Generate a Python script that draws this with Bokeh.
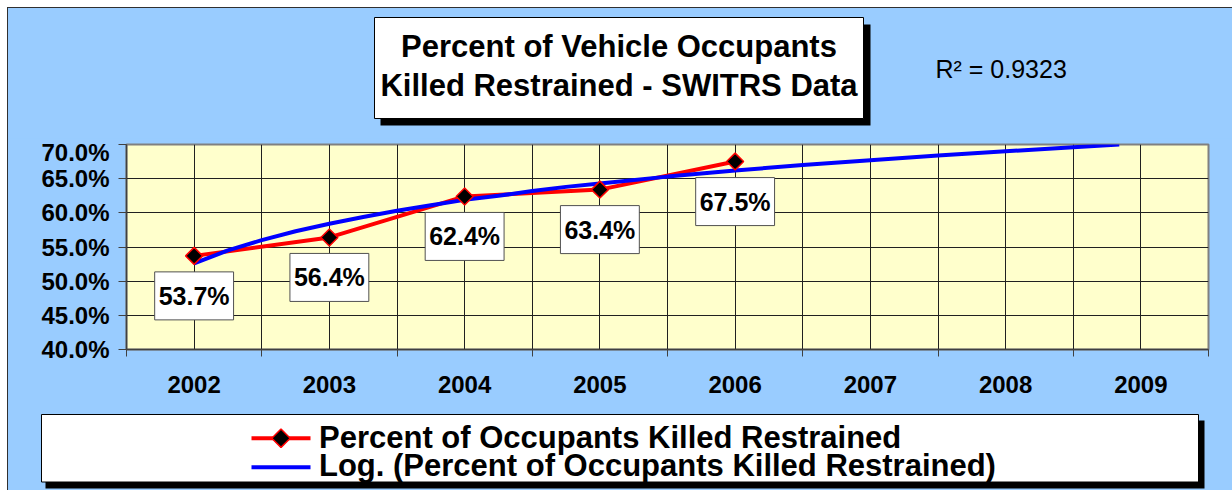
from bokeh.plotting import figure
from bokeh.layouts import column
from bokeh.models import Range1d, FixedTicker, PrintfTickFormatter, Label
from bokeh.core.properties import value
from bokeh.embed import file_html
from bokeh.resources import INLINE

# ---------------- data ----------------
years_all = [2002, 2003, 2004, 2005, 2006, 2007, 2008, 2009]
years = [2002, 2003, 2004, 2005, 2006]
pct_restrained = [53.7, 56.4, 62.4, 63.4, 67.5]

# logarithmic trend line
trend_years = [2002.0, 2002.25, 2002.5, 2002.75, 2003.0, 2003.25, 2003.5, 2003.75,
               2004.0, 2004.25, 2004.5, 2004.75, 2005.0, 2005.5, 2006.0, 2006.5,
               2007.0, 2007.5, 2008.0, 2008.5, 2008.84]
trend_vals = [52.6, 54.5, 56.0, 57.3, 58.4, 59.4, 60.3, 61.1,
              61.9, 62.5, 63.2, 63.8, 64.3, 65.3, 66.2, 67.0,
              67.7, 68.4, 69.0, 69.6, 70.0]

y_ticks = [40, 45, 50, 55, 60, 65, 70]
title_lines = ["Percent of Vehicle Occupants", "Killed Restrained - SWITRS Data"]
r2_text = "R\u00b2 = 0.9323"
legend_labels = ["Percent of Occupants Killed Restrained",
                 "Log. (Percent of Occupants Killed Restrained)"]

FONT = "Liberation Sans"
BLUE_BG = "#99CCFF"
RED = "#FF0000"
BLUE = "#0000FF"
W = 1224


def deco_figure(h):
    f = figure(width=W, height=h, output_backend="svg", toolbar_location=None,
               x_range=Range1d(0, W), y_range=Range1d(h, 0),
               x_axis_type=None, y_axis_type=None, min_border=0,
               frame_align=False)
    f.grid.visible = False
    f.outline_line_color = None
    f.background_fill_color = BLUE_BG
    f.border_fill_color = BLUE_BG
    return f


# ---------------- top: title box ----------------
top = deco_figure(130)
top.quad(left=[372], right=[862], top=[16], bottom=[117], fill_color="black",
         line_color=None)
top.quad(left=[366], right=[855], top=[9], bottom=[110], fill_color="white",
         line_color="black", line_width=1)
top.text(x=[610.5, 610.5], y=[37.8, 76.5], text=title_lines, text_align="center",
         text_baseline="middle", text_font=value(FONT), text_font_size="31px",
         text_font_style="bold", text_color="black")
top.text(x=[927], y=[60.8], text=[r2_text], text_align="left",
         text_baseline="middle", text_font=value(FONT), text_font_size="25px",
         text_color="black")

# ---------------- main chart ----------------
p = figure(width=W, height=271, output_backend="svg", toolbar_location=None,
           x_range=Range1d(years_all[0] - 0.5, years_all[-1] + 0.5),
           y_range=Range1d(y_ticks[0], y_ticks[-1]),
           min_border_left=118, min_border_right=24, min_border_top=6,
           min_border_bottom=60, frame_align=False)
p.border_fill_color = BLUE_BG
p.background_fill_color = "#FFFFCC"
p.outline_line_color = "#808080"
p.outline_line_width = 2

boundaries = [y - 0.5 for y in years_all] + [years_all[-1] + 0.5]
p.xaxis.ticker = FixedTicker(ticks=years_all, minor_ticks=boundaries)
p.xaxis.formatter = PrintfTickFormatter(format="%d")
p.xaxis.major_tick_out = 0
p.xaxis.major_tick_in = 0
p.xaxis.minor_tick_out = 7
p.xaxis.minor_tick_in = 0
p.xaxis.minor_tick_line_color = "#404040"
p.xaxis.axis_line_color = "#404040"
p.xaxis.axis_line_width = 1.5
p.xaxis.major_label_standoff = 19

p.yaxis.ticker = FixedTicker(ticks=y_ticks)
p.yaxis.formatter = PrintfTickFormatter(format="%.1f%%")
p.yaxis.major_tick_out = 8
p.yaxis.major_tick_in = 0
p.yaxis.minor_tick_line_color = None
p.yaxis.major_tick_line_color = "#404040"
p.yaxis.axis_line_color = "#404040"
p.yaxis.axis_line_width = 1.5
p.yaxis.major_label_standoff = 9

for ax in (p.xaxis, p.yaxis):
    ax.major_label_text_font = FONT
    ax.major_label_text_font_size = "24px"
    ax.major_label_text_font_style = "bold"
    ax.major_label_text_color = "black"

p.xgrid.grid_line_color = "#202020"
p.xgrid.minor_grid_line_color = "#202020"
p.xgrid.grid_line_width = 1
p.xgrid.minor_grid_line_width = 1
p.ygrid.grid_line_color = "#202020"
p.ygrid.grid_line_width = 1

p.line(years, pct_restrained, line_color=RED, line_width=4)
p.line(trend_years, trend_vals, line_color=BLUE, line_width=4)
p.scatter(years, pct_restrained, marker="square", size=12, angle=0.785398,
          fill_color="black", line_color=RED, line_width=1.5)

for yr, v in zip(years, pct_restrained):
    p.add_layout(Label(x=yr, y=v, y_offset=-40, text=f"{v:.1f}%",
                       text_align="center", text_baseline="middle",
                       text_font=FONT, text_font_size="25px", text_font_style="bold",
                       text_color="black", background_fill_color="white",
                       border_line_color="#505050", border_line_width=1,
                       padding=dict(left=4, right=4, top=10, bottom=10)))

# ---------------- bottom: legend box ----------------
bot = deco_figure(81)
bot.quad(left=[37], right=[1196], top=[11], bottom=[79], fill_color="black",
         line_color=None)
bot.quad(left=[33], right=[1190], top=[5], bottom=[72.5], fill_color="white",
         line_color="black", line_width=1)
bot.line(x=[243, 302], y=[28.7, 28.7], line_color=RED, line_width=4)
bot.scatter(x=[272.5], y=[28.7], marker="square", size=13, angle=0.785398,
            fill_color="black", line_color=RED, line_width=1.5)
bot.line(x=[243, 302], y=[57.7, 57.7], line_color=BLUE, line_width=4)
bot.text(x=[310.5, 310.5], y=[27.5, 56.0], text=legend_labels, text_align="left",
         text_baseline="middle", text_font=value(FONT), text_font_size="31px",
         text_font_style="bold", text_color="black")

layout = column(top, p, bot, spacing=0, margin=(7, 0, 0, 7),
                styles={"border-top": "1px solid #303030",
                        "border-left": "1px solid #303030",
                        "background-color": BLUE_BG})
open("out.html", "w").write(file_html(layout, INLINE))
